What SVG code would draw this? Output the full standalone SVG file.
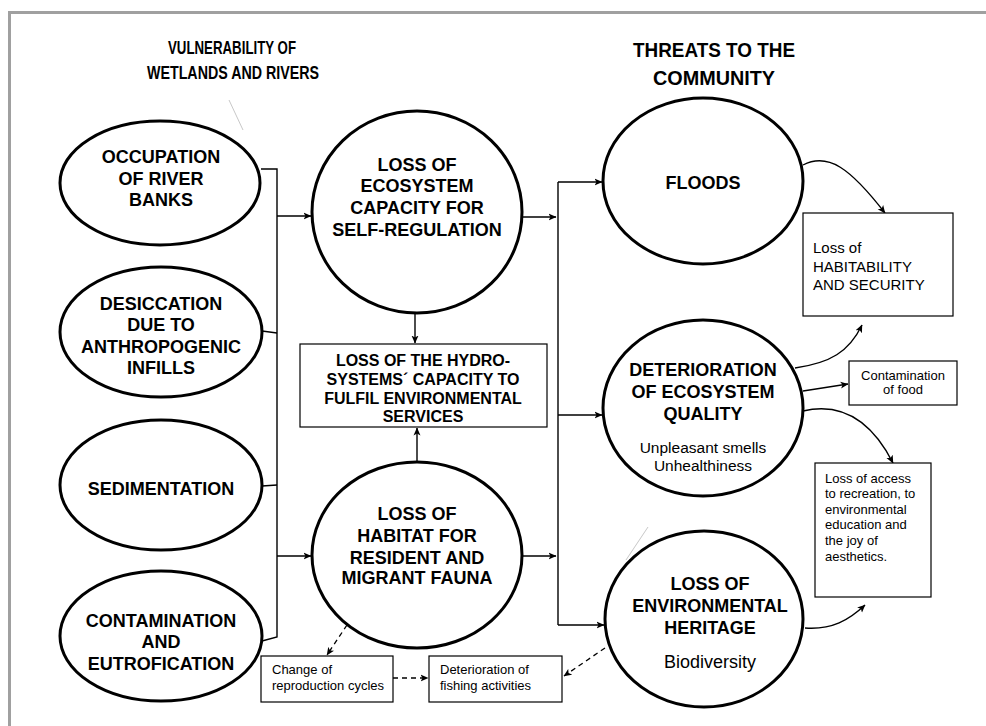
<svg xmlns="http://www.w3.org/2000/svg" width="986" height="726" viewBox="0 0 986 726">
  <style>
    .title { font-family: "Liberation Sans Narrow", "Liberation Sans", Arial, sans-serif; font-weight: bold; fill: #000; text-anchor: middle; }
    .node { fill: #fff; stroke: #000; stroke-width: 3; }
    .box { fill: #fff; stroke: #000; stroke-width: 1.2; }
    .bold { font-family: "Liberation Sans", Arial, sans-serif; font-weight: bold; font-size: 18px; fill: #000; text-anchor: middle; }
    .boxbold { font-family: "Liberation Sans", Arial, sans-serif; font-weight: bold; font-size: 16px; fill: #000; text-anchor: middle; }
    .reg { font-family: "Liberation Sans", Arial, sans-serif; fill: #000; }
    .wire { fill: none; stroke: #000; stroke-width: 1.4; }
    .dash { fill: none; stroke: #000; stroke-width: 1.3; stroke-dasharray: 5 4; }
    .faint { fill: none; stroke: #c8c8c8; stroke-width: 1; }
  </style>
  <defs>
    <marker id="arr" viewBox="0 0 8 8" refX="7.5" refY="4" markerWidth="8" markerHeight="8" markerUnits="userSpaceOnUse" orient="auto">
      <path d="M0,0.5 L8,4 L0,7.5 L2,4 z" fill="#000"/>
    </marker>
  </defs>

  <rect width="986" height="726" fill="#fff"/>
  <!-- page frame (top and left edges) -->
  <path d="M9.5,726 L9.5,12.5 L986,12.5" fill="none" stroke="#a0a0a0" stroke-width="3"/>

  <!-- section headings -->
  <g id="heading-left">
    <text class="title" x="232" y="54" font-size="19" textLength="128" lengthAdjust="spacingAndGlyphs">VULNERABILITY OF</text>
    <text class="title" x="233" y="79" font-size="19" textLength="172" lengthAdjust="spacingAndGlyphs">WETLANDS AND RIVERS</text>
  </g>
  <g id="heading-right">
    <text class="title" x="714" y="57" font-size="21" textLength="162" lengthAdjust="spacingAndGlyphs">THREATS TO THE</text>
    <text class="title" x="714" y="85" font-size="21" textLength="122" lengthAdjust="spacingAndGlyphs">COMMUNITY</text>
  </g>

  <!-- faint construction strokes -->
  <path class="faint" d="M229,100 L243,130"/>
  <path class="faint" d="M648,527 L626,560"/>

  <!-- connectors -->
  <g id="connectors">
    <path class="wire" d="M261,169 L277,169 L277,637 L262,641"/>
    <path class="wire" d="M262,331 L277,333"/>
    <path class="wire" d="M262,486 L277,485"/>
    <path class="wire" d="M277,216 L311,216" marker-end="url(#arr)"/>
    <path class="wire" d="M277,556 L311,556" marker-end="url(#arr)"/>

    <path class="wire" d="M415,313 L415,343" marker-end="url(#arr)"/>
    <path class="wire" d="M417,462 L417,428" marker-end="url(#arr)"/>

    <path class="wire" d="M523,217 L556,217" marker-end="url(#arr)"/>
    <path class="wire" d="M523,556 L556,556" marker-end="url(#arr)"/>
    <path class="wire" d="M558,182 L558,625"/>
    <path class="wire" d="M558,182 L602,182" marker-end="url(#arr)"/>
    <path class="wire" d="M558,415 L602,415" marker-end="url(#arr)"/>
    <path class="wire" d="M558,625 L604,625" marker-end="url(#arr)"/>

    <path class="wire" d="M803,165 C828,152 850,168 885,213" marker-end="url(#arr)"/>
    <path class="wire" d="M795,368 C830,363 849,352 862,325" marker-end="url(#arr)"/>
    <path class="wire" d="M803,391 L848,384" marker-end="url(#arr)"/>
    <path class="wire" d="M803,411 C842,402 872,422 893,463" marker-end="url(#arr)"/>
    <path class="wire" d="M805,628 C832,630 849,620 865,605" marker-end="url(#arr)"/>

    <path class="dash" d="M347,625 L327,655" marker-end="url(#arr)"/>
    <path class="dash" d="M393,678 L428,678" marker-end="url(#arr)"/>
    <path class="dash" d="M605,648 L564,676" marker-end="url(#arr)"/>
  </g>

  <!-- causes -->
  <g id="occupation">
    <ellipse class="node" cx="160" cy="183" rx="100" ry="62"/>
    <text class="bold" x="161" y="163">OCCUPATION</text>
    <text class="bold" x="161" y="185">OF RIVER</text>
    <text class="bold" x="161" y="206">BANKS</text>
  </g>
  <g id="desiccation">
    <ellipse class="node" cx="161" cy="332" rx="101" ry="65"/>
    <text class="bold" x="161" y="310">DESICCATION</text>
    <text class="bold" x="161" y="331">DUE TO</text>
    <text class="bold" x="161" y="353">ANTHROPOGENIC</text>
    <text class="bold" x="161" y="374">INFILLS</text>
  </g>
  <g id="sedimentation">
    <ellipse class="node" cx="161" cy="485" rx="101" ry="65"/>
    <text class="bold" x="161" y="495">SEDIMENTATION</text>
  </g>
  <g id="contamination">
    <ellipse class="node" cx="161" cy="636" rx="101" ry="65"/>
    <text class="bold" x="161" y="627">CONTAMINATION</text>
    <text class="bold" x="161" y="648">AND</text>
    <text class="bold" x="161" y="670">EUTROFICATION</text>
  </g>

  <!-- ecosystem effects -->
  <g id="self-regulation">
    <ellipse class="node" cx="417" cy="212" rx="105" ry="101"/>
    <text class="bold" x="417" y="171">LOSS OF</text>
    <text class="bold" x="417" y="192">ECOSYSTEM</text>
    <text class="bold" x="417" y="214">CAPACITY FOR</text>
    <text class="bold" x="417" y="236">SELF-REGULATION</text>
  </g>
  <g id="hydro-systems">
    <rect class="box" x="300" y="344" width="247" height="83"/>
    <text class="boxbold" x="423" y="366">LOSS OF THE HYDRO-</text>
    <text class="boxbold" x="423" y="385">SYSTEMS´ CAPACITY TO</text>
    <text class="boxbold" x="423" y="404">FULFIL ENVIRONMENTAL</text>
    <text class="boxbold" x="423" y="422">SERVICES</text>
  </g>
  <g id="habitat">
    <ellipse class="node" cx="417" cy="555" rx="105" ry="93"/>
    <text class="bold" x="417" y="520">LOSS OF</text>
    <text class="bold" x="417" y="542">HABITAT FOR</text>
    <text class="bold" x="417" y="564">RESIDENT AND</text>
    <text class="bold" x="417" y="584">MIGRANT FAUNA</text>
  </g>
  <g id="reproduction">
    <rect class="box" x="261" y="656" width="132" height="46"/>
    <text class="reg" font-size="13" x="272" y="674">Change of</text>
    <text class="reg" font-size="13" x="272" y="690">reproduction cycles</text>
  </g>
  <g id="fishing">
    <rect class="box" x="429" y="656" width="133" height="46"/>
    <text class="reg" font-size="13" x="440" y="674">Deterioration of</text>
    <text class="reg" font-size="13" x="440" y="690">fishing activities</text>
  </g>

  <!-- threats -->
  <g id="floods">
    <ellipse class="node" cx="703" cy="181" rx="100" ry="83"/>
    <text class="bold" x="703" y="189">FLOODS</text>
  </g>
  <g id="quality">
    <ellipse class="node" cx="703" cy="408" rx="100" ry="88"/>
    <text class="bold" x="703" y="376">DETERIORATION</text>
    <text class="bold" x="703" y="398">OF ECOSYSTEM</text>
    <text class="bold" x="703" y="420">QUALITY</text>
    <text class="reg" font-size="15.5" text-anchor="middle" x="703" y="453">Unpleasant smells</text>
    <text class="reg" font-size="15.5" text-anchor="middle" x="703" y="471">Unhealthiness</text>
  </g>
  <g id="heritage">
    <ellipse class="node" cx="704" cy="619" rx="99" ry="88"/>
    <text class="bold" x="710" y="590">LOSS OF</text>
    <text class="bold" x="710" y="612">ENVIRONMENTAL</text>
    <text class="bold" x="710" y="634">HERITAGE</text>
    <text class="reg" font-size="18" text-anchor="middle" x="710" y="668">Biodiversity</text>
  </g>

  <!-- consequences -->
  <g id="habitability">
    <rect class="box" x="803" y="213" width="150" height="103"/>
    <text class="reg" font-size="15" x="813" y="253">Loss of</text>
    <text class="reg" font-size="15" x="813" y="272">HABITABILITY</text>
    <text class="reg" font-size="15" x="813" y="290">AND SECURITY</text>
  </g>
  <g id="food">
    <rect class="box" x="849" y="361" width="108" height="44"/>
    <text class="reg" font-size="13" text-anchor="middle" x="903" y="380">Contamination</text>
    <text class="reg" font-size="13" text-anchor="middle" x="903" y="394">of food</text>
  </g>
  <g id="recreation">
    <rect class="box" x="815" y="463" width="116" height="134"/>
    <text class="reg" font-size="13" x="825" y="483">Loss of  access</text>
    <text class="reg" font-size="13" x="825" y="498">to recreation, to</text>
    <text class="reg" font-size="13" x="825" y="514">environmental</text>
    <text class="reg" font-size="13" x="825" y="529">education and</text>
    <text class="reg" font-size="13" x="825" y="545">the joy of</text>
    <text class="reg" font-size="13" x="825" y="561">aesthetics.</text>
  </g>
</svg>
